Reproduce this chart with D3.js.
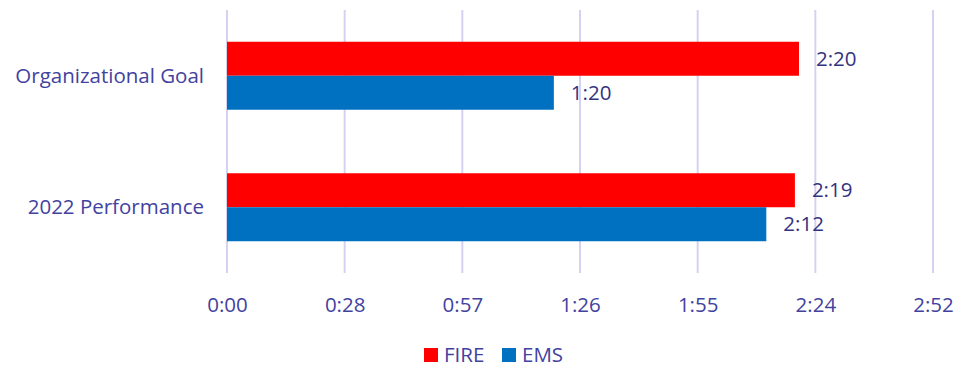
<!DOCTYPE html>
<html>
<head>
<meta charset="utf-8">
<script src="https://cdn.jsdelivr.net/npm/d3@7"></script>
<style>
  html, body { margin: 0; padding: 0; background: #fff; }
  svg { display: block; font-family: "Open Sans", "Noto Sans", sans-serif; }
</style>
</head>
<body>
<svg id="chart" width="972" height="370"></svg>
<script>
// Response times, in seconds
const categories = ["Organizational Goal", "2022 Performance"];
const seriesNames = ["FIRE", "EMS"];
const fireValues = [140, 139];
const emsValues = [80, 132];
// Axis ticks every 28.8 s (Excel time unit steps), shown as m:ss
const tickValues = [0, 28.8, 57.6, 86.4, 115.2, 144, 172.8];
const colors = ["#ff0000", "#0070c0"];

const FONT = 20.5;
const svg = d3.select("#chart");
const margin = { left: 227, right: 39, top: 10, bottom: 97 };
const W = 972, H = 370;

const x = d3.scaleLinear().domain([0, 172.8]).range([margin.left, W - margin.right]);
const y0 = d3.scaleBand().domain(categories).range([margin.top, H - margin.bottom]);
const y1 = d3.scaleBand().domain(seriesNames)
  .range([0, y0.bandwidth()]).paddingInner(0).paddingOuter(0.934);

const fmt = s => {
  const t = Math.floor(s + 1e-6);
  return Math.floor(t / 60) + ":" + String(t % 60).padStart(2, "0");
};

// Vertical gridlines
svg.append("g").selectAll("line").data(tickValues).join("line")
  .attr("x1", d => x(d)).attr("x2", d => x(d))
  .attr("y1", margin.top).attr("y2", H - margin.bottom)
  .attr("stroke", "#d4d2f2").attr("stroke-width", 2);

// Bars
const rows = categories.map((c, i) => ({
  cat: c,
  vals: [{ s: "FIRE", v: fireValues[i] }, { s: "EMS", v: emsValues[i] }]
}));

const g = svg.append("g").selectAll("g").data(rows).join("g")
  .attr("transform", d => `translate(0,${y0(d.cat)})`);

g.selectAll("rect").data(d => d.vals).join("rect")
  .attr("x", x(0))
  .attr("y", d => y1(d.s))
  .attr("width", d => x(d.v) - x(0))
  .attr("height", y1.bandwidth())
  .attr("fill", (d, i) => colors[i]);

g.selectAll("text").data(d => d.vals).join("text")
  .attr("x", d => x(d.v) + 17)
  .attr("y", d => y1(d.s) + y1.bandwidth() / 2)
  .attr("dy", "0.35em")
  .attr("font-size", FONT)
  .attr("fill", "#33337f")
  .text(d => fmt(d.v));

// Category labels
svg.append("g").selectAll("text").data(categories).join("text")
  .attr("x", 204)
  .attr("y", d => y0(d) + y0.bandwidth() / 2)
  .attr("dy", "0.35em")
  .attr("text-anchor", "end")
  .attr("font-size", FONT)
  .attr("fill", "#4242a0")
  .text(d => d);

// X axis labels
const xAxis = d3.axisBottom(x).tickValues(tickValues).tickFormat(fmt).tickSize(0).tickPadding(0);
const ax = svg.append("g").attr("transform", `translate(0,${H - margin.bottom})`).call(xAxis);
ax.select(".domain").remove();
ax.selectAll("text")
  .attr("y", 39)
  .attr("dy", 0)
  .attr("font-size", FONT)
  .attr("font-family", "'Open Sans', 'Noto Sans', sans-serif")
  .attr("fill", "#4242a0");

// Legend
const legend = svg.append("g");
const legendX = [424, 502];
seriesNames.forEach((s, i) => {
  legend.append("rect")
    .attr("x", legendX[i]).attr("y", 348)
    .attr("width", 14).attr("height", 14)
    .attr("fill", colors[i]);
  legend.append("text")
    .attr("x", legendX[i] + 20).attr("y", 355)
    .attr("dy", "0.35em")
    .attr("font-size", FONT)
    .attr("fill", "#4242a0")
    .text(s);
});
</script>
</body>
</html>
